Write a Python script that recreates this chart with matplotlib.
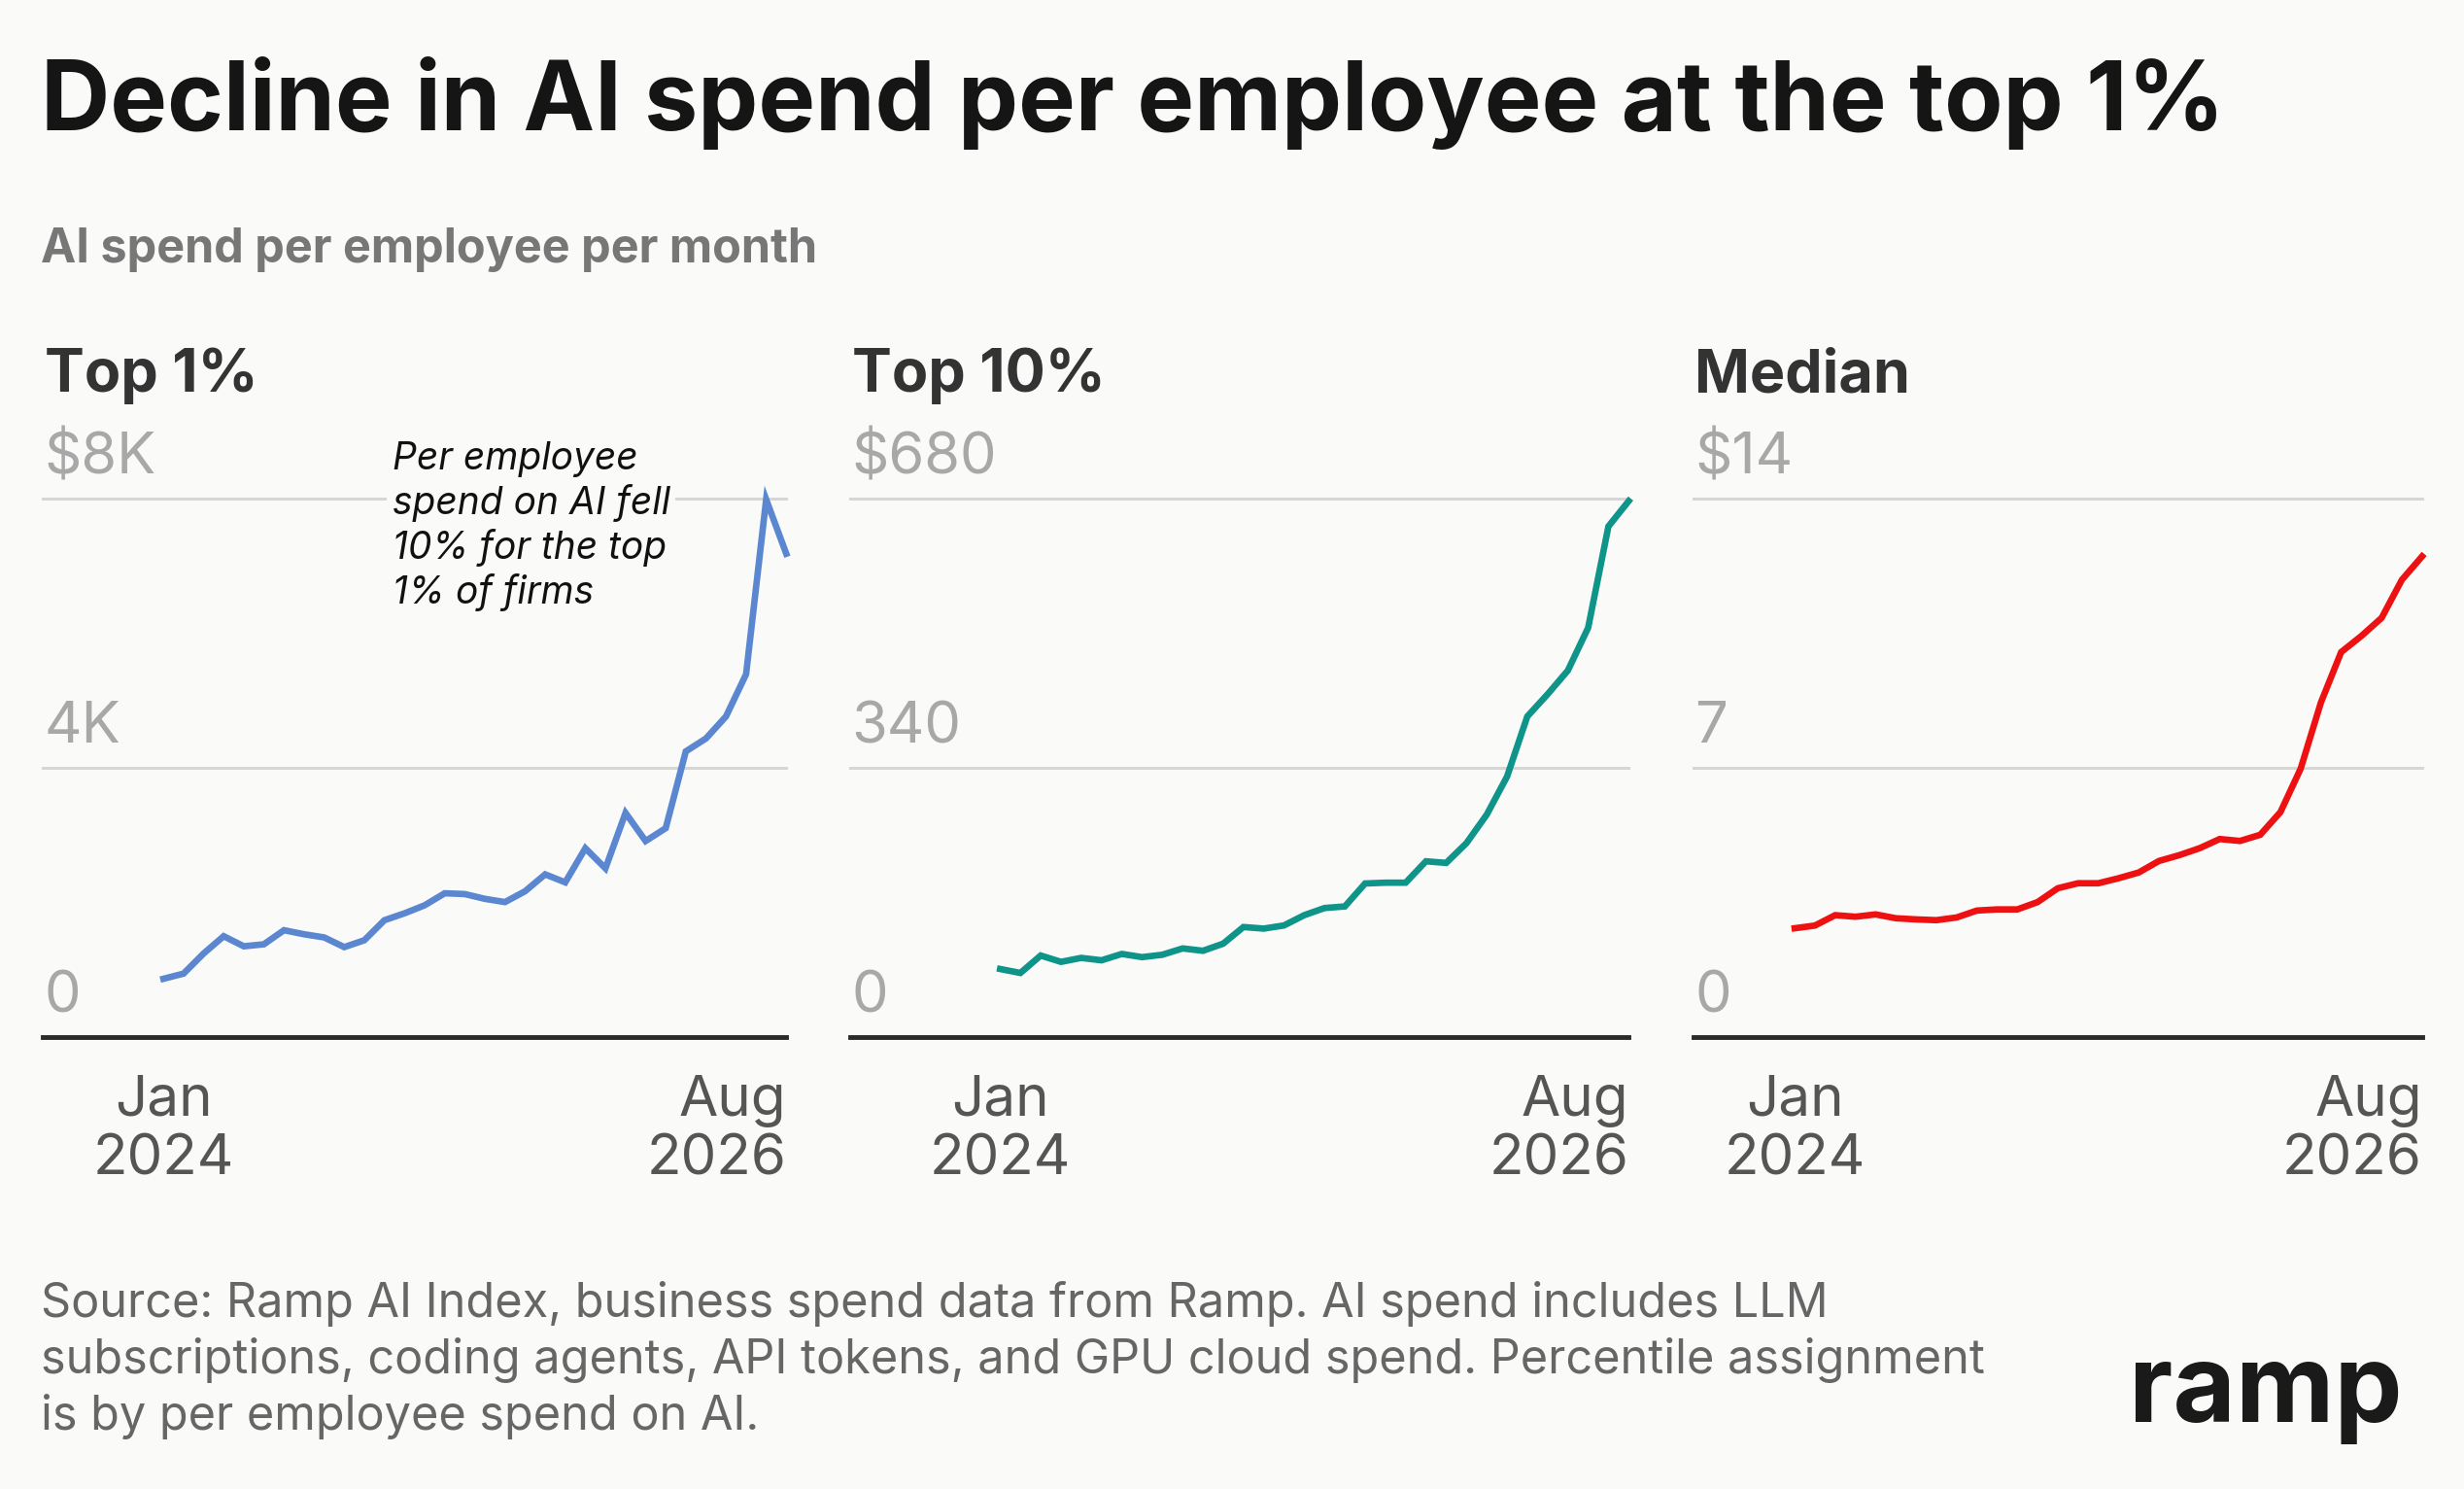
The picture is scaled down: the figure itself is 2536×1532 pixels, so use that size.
import numpy as np
import matplotlib.pyplot as plt
import matplotlib.transforms as mtransforms

plt.rcParams['font.family'] = ['Inter', 'DejaVu Sans']

# monthly values, Jan 2024 .. Aug 2026
months = np.arange(32)
top1 = [866, 943, 1242, 1499, 1349, 1379, 1588, 1528, 1481, 1337, 1439, 1737,
        1839, 1958, 2137, 2125, 2054, 2006, 2167, 2418, 2299, 2806, 2507, 3331,
        2913, 3104, 4245, 4436, 4764, 5391, 7988, 7182]
top10 = [86, 81, 103, 95, 100, 97, 105, 101, 104, 112, 109, 118,
         139, 137, 141, 154, 163, 165, 194, 195, 195, 222, 220, 245,
         281, 329, 405, 433, 463, 517, 645, 677]
median = [2.83, 2.90, 3.17, 3.13, 3.19, 3.09, 3.06, 3.04, 3.11, 3.29, 3.32, 3.32,
          3.51, 3.87, 4.00, 4.00, 4.13, 4.28, 4.58, 4.73, 4.91, 5.15, 5.10, 5.26,
          5.85, 6.98, 8.70, 10.01, 10.43, 10.90, 11.89, 12.50]

panel_titles = ['Top 1%', 'Top 10%', 'Median']
tick_vals = [[0, 4000, 8000], [0, 340, 680], [0, 7, 14]]
tick_labels = [['0', '4K', '$8K'], ['0', '340', '$680'], ['0', '7', '$14']]
series = [top1, top10, median]
colors = ['#5B87D0', '#0E9488', '#EE1111']
lefts = [0.0174, 0.345, 0.6873]
widths = [0.3017, 0.316, 0.2957]
xmins = [-6.0, -7.4, -5.0]

bg = '#FAFAF9'
fig = plt.figure(figsize=(25.36, 15.32), dpi=100, facecolor=bg)

fig.text(0.0165, 0.962, 'Decline in AI spend per employee at the top 1%', fontsize=71,
         fontweight='bold', color='#151515', va='top')
fig.text(0.0165, 0.847, 'AI spend per employee per month', fontsize=35,
         fontweight='bold', color='#777777', va='top')

for i in range(3):
    ax = fig.add_axes([lefts[i], 0.3035, widths[i], 0.3616])
    ax.set_facecolor(bg)
    ax.plot(months, series[i], color=colors[i], lw=4.8, clip_on=False,
            solid_joinstyle='miter', zorder=3)
    ax.set_xlim(xmins[i], 31)
    ax.set_ylim(0, tick_vals[i][2])
    for s in ax.spines.values():
        s.set_visible(False)
    ax.set_xticks([])
    ax.set_yticks([])
    ax.axhline(0, color='#2a2a2a', lw=3.5, zorder=4, clip_on=False)
    for v in tick_vals[i][1:]:
        ax.axhline(v, color='#D6D6D6', lw=2.2, zorder=1, clip_on=False)
    trans = mtransforms.blended_transform_factory(ax.transAxes, ax.transData)
    off = mtransforms.offset_copy(trans, fig=fig, y=14, units='dots')
    for v, lab in zip(tick_vals[i], tick_labels[i]):
        ax.text(0.002, v, lab, transform=off, fontsize=43, color='#A8A8A8',
                va='bottom', ha='left')
    ax.text(0.002, 1.175, panel_titles[i], transform=ax.transAxes, fontsize=44,
            fontweight='bold', color='#333333', va='bottom', ha='left')
    ax.text(0, -0.07, 'Jan\n2024', transform=mtransforms.blended_transform_factory(
        ax.transData, ax.transAxes), fontsize=42, color='#555555', ha='center',
        va='top', linespacing=1.15)
    ax.text(1.0, -0.07, 'Aug\n2026', transform=ax.transAxes, fontsize=42,
            color='#555555', ha='right', va='top', multialignment='right',
            linespacing=1.15)
    if i == 0:
        ax.text(11.4, 8850, 'Per employee\nspend on AI fell\n10% for the top\n1% of firms',
                fontsize=28, fontstyle='italic', color='#111111', va='top', ha='left',
                linespacing=1.22, zorder=5,
                bbox=dict(facecolor=bg, edgecolor='none', pad=4))

fig.text(0.0165, 0.14, 'Source: Ramp AI Index, business spend data from Ramp. AI spend includes LLM\n'
         'subscriptions, coding agents, API tokens, and GPU cloud spend. Percentile assignment\n'
         'is by per employee spend on AI.', fontsize=35, color='#666666', va='top',
         linespacing=1.3)
fig.text(0.975, 0.03, 'ramp', fontsize=80, fontweight='bold', color='#1a1a1a',
         ha='right', va='bottom')

fig.savefig('out.png', dpi=100, facecolor=bg)
